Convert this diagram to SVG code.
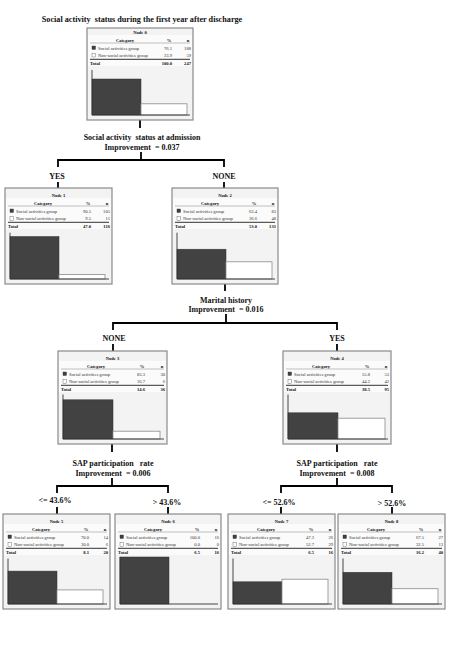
<svg xmlns="http://www.w3.org/2000/svg" width="449" height="648" viewBox="0 0 449 648">
<style>
text{font-family:"Liberation Serif","Times New Roman",serif;fill:#111}
.ttl{font-size:8.2px;font-weight:bold;text-anchor:middle}
.sp{font-size:8px;font-weight:bold;text-anchor:middle}
.br{font-size:8px;font-weight:bold;text-anchor:middle}
.box{fill:#f3f3f3;stroke:#8a8a8a;stroke-width:1.2}
.tbl{fill:#fbfbfb}
.nt{font-size:4.6px;font-weight:bold;text-anchor:middle}
.hd{font-size:4.6px;font-weight:bold;text-anchor:middle}
.c{font-size:4.6px;fill:#333}
.v{font-size:4.6px;text-anchor:end;fill:#333}
.tot{font-size:4.6px;font-weight:bold}
.totv{font-size:4.6px;font-weight:bold;text-anchor:end}
.thin{stroke:#999;stroke-width:0.6}
.thick{stroke:#333;stroke-width:1}
.swd{fill:#404040;stroke:#333;stroke-width:0.4}
.swl{fill:#fff;stroke:#555;stroke-width:0.4}
.bd{fill:#424242;stroke:#333;stroke-width:0.5}
.bl{fill:#fff;stroke:#8a8a8a;stroke-width:0.8}
.ax{stroke:#333;stroke-width:0.9;fill:none}
.cn{stroke:#000;stroke-width:1.8;fill:none}
</style>

<text class="ttl" x="142" y="21.8" xml:space="preserve">Social activity  status during the first year after discharge</text>

<g id="connectors">
<path class="cn" d="M140,120V128 M141,152V160 M58,167V160H224V167 M58,182V188 M224,182V188"/>
<path class="cn" d="M225,284V291 M226,314V323 M113,330V323H337V330 M113,344V351 M337,344V351"/>
<path class="cn" d="M112,444V452 M112,478V486 M57,493V486H168V493 M57,507V514 M168,507V514"/>
<path class="cn" d="M337,444V452 M337,478V486 M281,493V486H392V493 M281,507V514 M392,507V514"/>
</g>

<g id="split1">
<text class="sp" x="142" y="139.8" xml:space="preserve">Social activity  status at admission</text>
<text class="sp" x="142" y="149.8" xml:space="preserve">Improvement  = 0.037</text>
<text class="br" x="57" y="179">YES</text>
<text class="br" x="224" y="179">NONE</text>
</g>
<g id="split2">
<text class="sp" x="226" y="302.8">Marital history</text>
<text class="sp" x="226" y="311.8" xml:space="preserve">Improvement  = 0.016</text>
<text class="br" x="114" y="341">NONE</text>
<text class="br" x="337" y="341">YES</text>
</g>
<g id="split3">
<text class="sp" x="113" y="465.8" xml:space="preserve">SAP participation   rate</text>
<text class="sp" x="113" y="475.8" xml:space="preserve">Improvement  = 0.006</text>
<text class="br" x="55" y="502.5">&lt;= 43.6%</text>
<text class="br" x="167" y="504.5">&gt; 43.6%</text>
</g>
<g id="split4">
<text class="sp" x="337" y="465.8" xml:space="preserve">SAP participation   rate</text>
<text class="sp" x="337" y="475.8" xml:space="preserve">Improvement  = 0.008</text>
<text class="br" x="279" y="504.5">&lt;= 52.6%</text>
<text class="br" x="392" y="505.5">&gt; 52.6%</text>
</g>

<!-- Node 0 (compact) -->
<g id="node0" transform="translate(87,28)">
<rect class="box" x="0" y="0" width="106" height="92"/>
<rect class="tbl" x="1" y="7" width="104" height="31"/>
<text class="nt" x="53" y="5.8">Node 0</text>
<text class="hd" x="38" y="13.5">Category</text>
<text class="hd" x="82" y="13.5">%</text>
<text class="hd" x="101" y="13.5">n</text>
<line class="thin" x1="3" y1="15" x2="103" y2="15"/>
<rect class="swd" x="5" y="18" width="3.5" height="3.5"/>
<text class="c" x="11" y="21.5">Social activities group</text>
<text class="v" x="85" y="21.5">76.1</text>
<text class="v" x="104" y="21.5">188</text>
<rect class="swl" x="5" y="25.5" width="3.5" height="3.5"/>
<text class="c" x="11" y="29">Non-social activities group</text>
<text class="v" x="85" y="29">23.9</text>
<text class="v" x="104" y="29">59</text>
<line class="thick" x1="3" y1="31.3" x2="103" y2="31.3"/>
<text class="tot" x="3" y="37">Total</text>
<text class="totv" x="85" y="37">100.0</text>
<text class="totv" x="104" y="37">247</text>
<rect class="bd" x="5" y="51" width="49" height="36"/>
<rect class="bl" x="54" y="75.8" width="46" height="11.2"/>
<path class="ax" d="M5,42V87H103"/>
</g>

<g id="node1" transform="translate(5,188)">
<rect class="box" x="0" y="0" width="107" height="96"/>
<rect class="tbl" x="1" y="10" width="105" height="31"/>
<text class="nt" x="53.5" y="8.5">Node 1</text>
<text class="hd" x="38" y="16.5">Category</text>
<text class="hd" x="83" y="16.5">%</text>
<text class="hd" x="102" y="16.5">n</text>
<line class="thin" x1="3" y1="18" x2="104" y2="18"/>
<rect class="swd" x="5" y="21" width="3.5" height="3.5"/>
<text class="c" x="11" y="24.5">Social activities group</text>
<text class="v" x="86" y="24.5">90.5</text>
<text class="v" x="105" y="24.5">105</text>
<rect class="swl" x="5" y="28.7" width="3.5" height="3.5"/>
<text class="c" x="11" y="32.2">Non-social activities group</text>
<text class="v" x="86" y="32.2">9.5</text>
<text class="v" x="105" y="32.2">11</text>
<line class="thick" x1="3" y1="34.3" x2="104" y2="34.3"/>
<text class="tot" x="3" y="40.2">Total</text>
<text class="totv" x="86" y="40.2">47.0</text>
<text class="totv" x="105" y="40.2">116</text>
<rect class="bd" x="5" y="48.5" width="49" height="42.5"/>
<rect class="bl" x="54" y="86.5" width="46" height="4.5"/>
<path class="ax" d="M5,44.7V91H104"/>
</g>

<g id="node2" transform="translate(172,188)">
<rect class="box" x="0" y="0" width="106" height="96"/>
<rect class="tbl" x="1" y="10" width="104" height="31"/>
<text class="nt" x="53" y="8.5">Node 2</text>
<text class="hd" x="38" y="16.5">Category</text>
<text class="hd" x="82" y="16.5">%</text>
<text class="hd" x="101" y="16.5">n</text>
<line class="thin" x1="3" y1="18" x2="103" y2="18"/>
<rect class="swd" x="5" y="21" width="3.5" height="3.5"/>
<text class="c" x="11" y="24.5">Social activities group</text>
<text class="v" x="85" y="24.5">63.4</text>
<text class="v" x="104" y="24.5">83</text>
<rect class="swl" x="5" y="28.7" width="3.5" height="3.5"/>
<text class="c" x="11" y="32.2">Non-social activities group</text>
<text class="v" x="85" y="32.2">36.6</text>
<text class="v" x="104" y="32.2">48</text>
<line class="thick" x1="3" y1="34.3" x2="103" y2="34.3"/>
<text class="tot" x="3" y="40.2">Total</text>
<text class="totv" x="85" y="40.2">53.0</text>
<text class="totv" x="104" y="40.2">131</text>
<rect class="bd" x="5" y="61.2" width="49" height="29.8"/>
<rect class="bl" x="54" y="73.8" width="46" height="17.2"/>
<path class="ax" d="M5,44.7V91H103"/>
</g>

<g id="node3" transform="translate(58,351)">
<rect class="box" x="0" y="0" width="109" height="93"/>
<rect class="tbl" x="1" y="10" width="107" height="31"/>
<text class="nt" x="54.5" y="8.5">Node 3</text>
<text class="hd" x="38" y="16.5">Category</text>
<text class="hd" x="84" y="16.5">%</text>
<text class="hd" x="104" y="16.5">n</text>
<line class="thin" x1="3" y1="18" x2="106" y2="18"/>
<rect class="swd" x="5" y="21" width="3.5" height="3.5"/>
<text class="c" x="11" y="24.5">Social activities group</text>
<text class="v" x="87" y="24.5">83.3</text>
<text class="v" x="107" y="24.5">30</text>
<rect class="swl" x="5" y="28.7" width="3.5" height="3.5"/>
<text class="c" x="11" y="32.2">Non-social activities group</text>
<text class="v" x="87" y="32.2">16.7</text>
<text class="v" x="107" y="32.2">6</text>
<line class="thick" x1="3" y1="34.3" x2="106" y2="34.3"/>
<text class="tot" x="3" y="40.2">Total</text>
<text class="totv" x="87" y="40.2">14.6</text>
<text class="totv" x="107" y="40.2">36</text>
<rect class="bd" x="5" y="48.8" width="50" height="39.2"/>
<rect class="bl" x="55" y="80.2" width="47" height="7.8"/>
<path class="ax" d="M5,43.5V88H106"/>
</g>

<g id="node4" transform="translate(283,351)">
<rect class="box" x="0" y="0" width="108" height="93"/>
<rect class="tbl" x="1" y="10" width="106" height="31"/>
<text class="nt" x="54" y="8.5">Node 4</text>
<text class="hd" x="38" y="16.5">Category</text>
<text class="hd" x="84" y="16.5">%</text>
<text class="hd" x="103" y="16.5">n</text>
<line class="thin" x1="3" y1="18" x2="105" y2="18"/>
<rect class="swd" x="5" y="21" width="3.5" height="3.5"/>
<text class="c" x="11" y="24.5">Social activities group</text>
<text class="v" x="87" y="24.5">55.8</text>
<text class="v" x="106" y="24.5">53</text>
<rect class="swl" x="5" y="28.7" width="3.5" height="3.5"/>
<text class="c" x="11" y="32.2">Non-social activities group</text>
<text class="v" x="87" y="32.2">44.2</text>
<text class="v" x="106" y="32.2">42</text>
<line class="thick" x1="3" y1="34.3" x2="105" y2="34.3"/>
<text class="tot" x="3" y="40.2">Total</text>
<text class="totv" x="87" y="40.2">38.5</text>
<text class="totv" x="106" y="40.2">95</text>
<rect class="bd" x="5" y="61.8" width="50" height="26.2"/>
<rect class="bl" x="55" y="67.2" width="47" height="20.8"/>
<path class="ax" d="M5,43.5V88H105"/>
</g>

<g id="node5" transform="translate(3,514)">
<rect class="box" x="0" y="0" width="107" height="95"/>
<rect class="tbl" x="1" y="10" width="105" height="31"/>
<text class="nt" x="53.5" y="8.5">Node 5</text>
<text class="hd" x="38" y="16.5">Category</text>
<text class="hd" x="83" y="16.5">%</text>
<text class="hd" x="102" y="16.5">n</text>
<line class="thin" x1="3" y1="18" x2="104" y2="18"/>
<rect class="swd" x="5" y="21" width="3.5" height="3.5"/>
<text class="c" x="11" y="24.5">Social activities group</text>
<text class="v" x="86" y="24.5">70.0</text>
<text class="v" x="105" y="24.5">14</text>
<rect class="swl" x="5" y="28.7" width="3.5" height="3.5"/>
<text class="c" x="11" y="32.2">Non-social activities group</text>
<text class="v" x="86" y="32.2">30.0</text>
<text class="v" x="105" y="32.2">6</text>
<line class="thick" x1="3" y1="34.3" x2="104" y2="34.3"/>
<text class="tot" x="3" y="40.2">Total</text>
<text class="totv" x="86" y="40.2">8.1</text>
<text class="totv" x="105" y="40.2">20</text>
<rect class="bd" x="5" y="57.1" width="49" height="32.9"/>
<rect class="bl" x="54" y="75.9" width="46" height="14.1"/>
<path class="ax" d="M5,44.5V90H104"/>
</g>

<g id="node6" transform="translate(115,514)">
<rect class="box" x="0" y="0" width="106" height="95"/>
<rect class="tbl" x="1" y="10" width="104" height="31"/>
<text class="nt" x="53" y="8.5">Node 6</text>
<text class="hd" x="38" y="16.5">Category</text>
<text class="hd" x="82" y="16.5">%</text>
<text class="hd" x="101" y="16.5">n</text>
<line class="thin" x1="3" y1="18" x2="103" y2="18"/>
<rect class="swd" x="5" y="21" width="3.5" height="3.5"/>
<text class="c" x="11" y="24.5">Social activities group</text>
<text class="v" x="85" y="24.5">100.0</text>
<text class="v" x="104" y="24.5">16</text>
<rect class="swl" x="5" y="28.7" width="3.5" height="3.5"/>
<text class="c" x="11" y="32.2">Non-social activities group</text>
<text class="v" x="85" y="32.2">0.0</text>
<text class="v" x="104" y="32.2">0</text>
<line class="thick" x1="3" y1="34.3" x2="103" y2="34.3"/>
<text class="tot" x="3" y="40.2">Total</text>
<text class="totv" x="85" y="40.2">6.5</text>
<text class="totv" x="104" y="40.2">16</text>
<rect class="bd" x="5" y="43" width="49" height="47"/>
<path class="ax" d="M5,43V90H103"/>
</g>

<g id="node7" transform="translate(228,514)">
<rect class="box" x="0" y="0" width="107" height="95"/>
<rect class="tbl" x="1" y="10" width="105" height="31"/>
<text class="nt" x="53.5" y="8.5">Node 7</text>
<text class="hd" x="38" y="16.5">Category</text>
<text class="hd" x="83" y="16.5">%</text>
<text class="hd" x="102" y="16.5">n</text>
<line class="thin" x1="3" y1="18" x2="104" y2="18"/>
<rect class="swd" x="5" y="21" width="3.5" height="3.5"/>
<text class="c" x="11" y="24.5">Social activities group</text>
<text class="v" x="86" y="24.5">47.3</text>
<text class="v" x="105" y="24.5">26</text>
<rect class="swl" x="5" y="28.7" width="3.5" height="3.5"/>
<text class="c" x="11" y="32.2">Non-social activities group</text>
<text class="v" x="86" y="32.2">52.7</text>
<text class="v" x="105" y="32.2">29</text>
<line class="thick" x1="3" y1="34.3" x2="104" y2="34.3"/>
<text class="tot" x="3" y="40.2">Total</text>
<text class="totv" x="86" y="40.2">6.5</text>
<text class="totv" x="105" y="40.2">16</text>
<rect class="bd" x="5" y="67.8" width="49" height="22.2"/>
<rect class="bl" x="54" y="65.2" width="46" height="24.8"/>
<path class="ax" d="M5,44.5V90H104"/>
</g>

<g id="node8" transform="translate(338,514)">
<rect class="box" x="0" y="0" width="107" height="95"/>
<rect class="tbl" x="1" y="10" width="105" height="31"/>
<text class="nt" x="53.5" y="8.5">Node 8</text>
<text class="hd" x="38" y="16.5">Category</text>
<text class="hd" x="83" y="16.5">%</text>
<text class="hd" x="102" y="16.5">n</text>
<line class="thin" x1="3" y1="18" x2="104" y2="18"/>
<rect class="swd" x="5" y="21" width="3.5" height="3.5"/>
<text class="c" x="11" y="24.5">Social activities group</text>
<text class="v" x="86" y="24.5">67.5</text>
<text class="v" x="105" y="24.5">27</text>
<rect class="swl" x="5" y="28.7" width="3.5" height="3.5"/>
<text class="c" x="11" y="32.2">Non-social activities group</text>
<text class="v" x="86" y="32.2">32.5</text>
<text class="v" x="105" y="32.2">13</text>
<line class="thick" x1="3" y1="34.3" x2="104" y2="34.3"/>
<text class="tot" x="3" y="40.2">Total</text>
<text class="totv" x="86" y="40.2">16.2</text>
<text class="totv" x="105" y="40.2">40</text>
<rect class="bd" x="5" y="58.3" width="49" height="31.7"/>
<rect class="bl" x="54" y="74.7" width="46" height="15.3"/>
<path class="ax" d="M5,44.5V90H104"/>
</g>
</svg>
